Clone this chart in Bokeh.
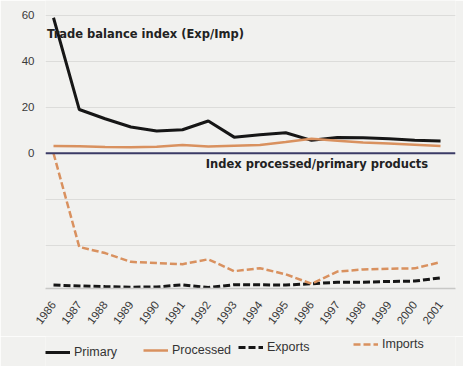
from math import pi
from bokeh.plotting import figure
from bokeh.layouts import column
from bokeh.models import Range1d, FixedTicker, Span, Label, Legend, LegendItem
from bokeh.embed import file_html
from bokeh.resources import INLINE

years = list(range(1986, 2002))
primary = [58.9, 19.0, 15.0, 11.4, 9.7, 10.2, 14.0, 7.0, 8.0, 8.9, 5.6, 6.8, 6.7, 6.3, 5.7, 5.3]
processed = [3.2, 3.0, 2.7, 2.6, 2.8, 3.6, 2.9, 3.3, 3.6, 4.9, 6.3, 5.4, 4.7, 4.2, 3.7, 3.2]
exports = [2.5, 1.9, 1.4, 1.0, 1.1, 2.7, 0.7, 2.8, 2.7, 2.6, 3.5, 4.6, 4.7, 5.2, 5.5, 7.9]
imports = [100.0, 30.7, 26.2, 19.7, 18.8, 18.0, 21.6, 12.8, 15.0, 10.5, 3.5, 12.5, 14.1, 14.6, 14.9, 19.5]
y_ticks = [-40, -20, 0, 20, 40, 60]
y_labels = {-40: "", -20: "", 0: "0", 20: "20", 40: "40", 60: "60"}
year_labels = {y: str(y) for y in years}
series_names = ["Primary", "Processed", "Exports", "Imports"]
series_values = [primary, processed, exports, imports]

BG = "#f1f1ef"
ORANGE = "#d9915f"
BLACK = "#161616"
FONT = "Liberation Sans"
BOLD_FONT = "DejaVu Sans"

p = figure(width=463, height=336, output_backend="svg", toolbar_location=None,
           x_range=Range1d(1985.69, 2001.58), y_range=Range1d(-58.8, 66.4),
           min_border_left=45, min_border_right=8, min_border_top=0, min_border_bottom=48,
           background_fill_color=BG, border_fill_color=BG, outline_line_color=None)
p.extra_y_ranges = {"trade": Range1d(0, 213)}

p.xgrid.grid_line_color = None
p.ygrid.ticker = FixedTicker(ticks=y_ticks)
p.ygrid.grid_line_color = "#dcdcda"
p.ygrid.grid_line_width = 1

p.yaxis.ticker = FixedTicker(ticks=y_ticks)
p.yaxis.major_label_overrides = y_labels
p.yaxis.axis_line_color = None
p.yaxis.major_tick_line_color = None
p.yaxis.minor_tick_line_color = None
p.yaxis.major_label_text_font = FONT
p.yaxis.major_label_text_font_size = "11.5px"
p.yaxis.major_label_text_color = "#3a3a3a"
p.yaxis.major_label_standoff = 5

p.xaxis.ticker = FixedTicker(ticks=years)
p.xaxis.major_label_overrides = year_labels
p.xaxis.major_label_orientation = pi / 3.4
p.xaxis.axis_line_color = "#c8c8c6"
p.xaxis.axis_line_width = 1.5
p.xaxis.major_tick_line_color = None
p.xaxis.minor_tick_line_color = None
p.xaxis.major_label_text_font = FONT
p.xaxis.major_label_text_font_size = "11.5px"
p.xaxis.major_label_text_color = "#3a3a3a"
p.xaxis.major_label_standoff = 8

zero = Span(location=0, dimension="width", line_color="#3b3b66", line_width=2)
p.add_layout(zero)

styles = [dict(line_color=BLACK, line_width=3),
          dict(line_color=ORANGE, line_width=2.5),
          dict(line_color=BLACK, line_width=3, line_dash="7 3"),
          dict(line_color=ORANGE, line_width=2.5, line_dash="7 3")]

p.line(years, primary, **styles[0])
p.line(years, processed, **styles[1])
p.line(years, exports, y_range_name="trade", **styles[2])
p.line(years, imports, y_range_name="trade", **styles[3])

p.add_layout(Label(x=1985.75, y=52, text="Trade balance index (Exp/Imp)", text_font=BOLD_FONT,
                   text_font_size="11.5px", text_font_style="bold", text_color="#222222",
                   text_baseline="middle"))
p.add_layout(Label(x=1991.9, y=-4.8, text="Index processed/primary products", text_font=BOLD_FONT,
                   text_font_size="11.5px", text_font_style="bold", text_color="#222222",
                   text_baseline="middle"))

# legend strip below the chart (series drawn off-range; only the legend shows)
lg = figure(width=463, height=30, output_backend="svg", toolbar_location=None,
            x_range=Range1d(0, 1), y_range=Range1d(-1000, -999),
            x_axis_location=None, y_axis_location=None,
            min_border_left=0, min_border_right=0, min_border_top=0, min_border_bottom=0,
            background_fill_color=BG, border_fill_color=BG, outline_line_color=None)
lg.grid.visible = False
legend_pos = [(0, 4), (98, 6), (193, 9), (308, 12)]
for name, vals, st, pos in zip(series_names, series_values, styles, legend_pos):
    r = lg.line(years, vals, **st)
    lg.add_layout(Legend(items=[LegendItem(label=name, renderers=[r])], location=pos,
                         border_line_color=None, background_fill_alpha=0,
                         label_text_font=FONT, label_text_font_size="12.5px",
                         label_text_color="#333333", glyph_width=25, label_standoff=4,
                         padding=0, margin=0))

layout = column(p, lg, spacing=0)
open("out.html", "w").write(file_html(layout, INLINE))
